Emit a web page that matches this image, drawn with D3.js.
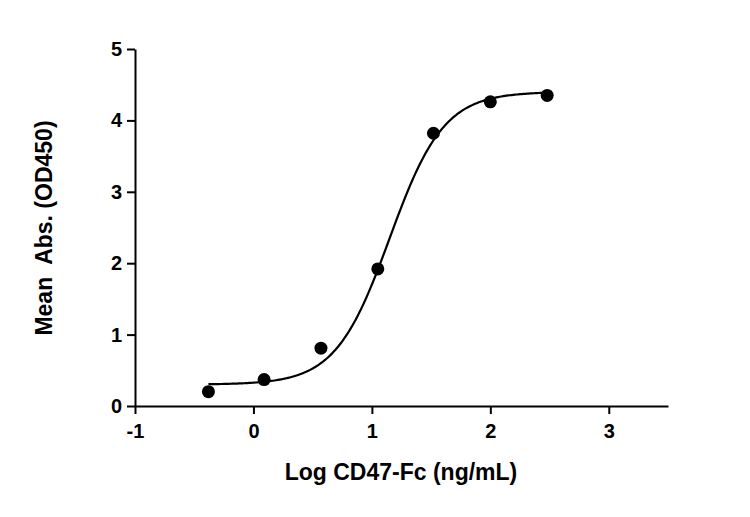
<!DOCTYPE html>
<html><head><meta charset="utf-8">
<script src="https://cdn.jsdelivr.net/npm/d3@7"></script>
<style>body{margin:0;background:#fff}text{font-family:"Liberation Sans",Arial,sans-serif;font-weight:bold}</style>
</head><body><svg id="chart"></svg>
<script>
// measured points
const logConc = [-0.38, 0.09, 0.57, 1.05, 1.52, 2.0, 2.48];
const meanAbs = [0.2, 0.37, 0.81, 1.92, 3.82, 4.26, 4.35];
const xTicks = [-1, 0, 1, 2, 3];
const yTicks = [0, 1, 2, 3, 4, 5];
// 4PL fit parameters (bottom, top, logEC50, hill)
const fit = {bottom: 0.3, top: 4.4, logEC50: 1.15, hill: 1.9};

const width = 750, height = 517;
const svg = d3.select("#chart").attr("width", width).attr("height", height);
const x = d3.scaleLinear().domain([-1, 3.5]).range([135, 668]);
const y = d3.scaleLinear().domain([0, 5]).range([406, 49]);

const fx = v => fit.bottom + (fit.top - fit.bottom) / (1 + Math.pow(10, (fit.logEC50 - v) * fit.hill));
const curve = d3.range(0, 201).map(i => {
  const v = logConc[0] + (logConc[logConc.length - 1] - logConc[0]) * i / 200;
  return [v, fx(v)];
});

svg.append("path")
  .attr("d", d3.line().x(d => x(d[0])).y(d => y(d[1]))(curve))
  .attr("fill", "none").attr("stroke", "#000").attr("stroke-width", 2.2);

svg.selectAll(".pt").data(logConc).enter().append("circle")
  .attr("cx", d => x(d)).attr("cy", (d, i) => y(meanAbs[i]))
  .attr("r", 6.5).attr("fill", "#000");

const fmt = d => String(d);
const xAxis = svg.append("g").attr("transform", "translate(0,406)")
  .call(d3.axisBottom(x).tickValues(xTicks).tickSize(8).tickSizeOuter(0).tickFormat(fmt));
const yAxis = svg.append("g").attr("transform", "translate(135,0)")
  .call(d3.axisLeft(y).tickValues(yTicks).tickSize(8).tickSizeOuter(0).tickFormat(fmt));
[xAxis, yAxis].forEach(g => {
  g.select(".domain").attr("stroke-width", 2);
  g.selectAll(".tick line").attr("stroke-width", 2);
  g.selectAll("text").attr("font-size", 20).attr("fill", "#000");
});
xAxis.selectAll("text").attr("dy", "1.05em");
yAxis.selectAll("text").attr("x", -13);

svg.append("text").attr("x", 401).attr("y", 480).attr("text-anchor", "middle")
  .attr("font-size", 23).text("Log CD47-Fc (ng/mL)");
svg.append("text").attr("transform", "translate(52,228) rotate(-90)").attr("text-anchor", "middle")
  .attr("font-size", 23).attr("xml:space", "preserve").text("Mean  Abs. (OD450)");
</script></body></html>
